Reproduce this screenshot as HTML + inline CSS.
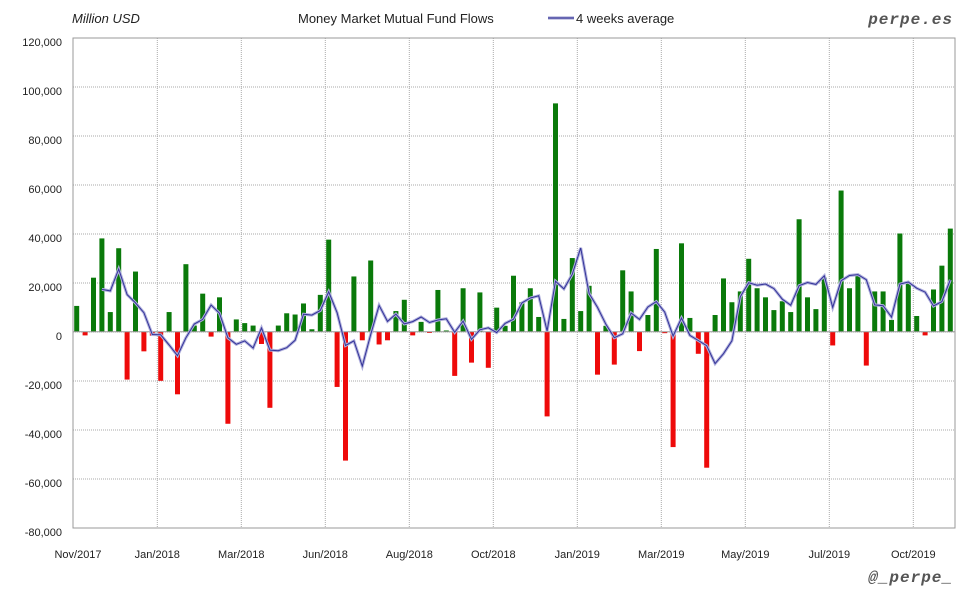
<!DOCTYPE html>
<html><head><meta charset="utf-8"><style>
html,body{margin:0;padding:0;background:#fff;}
svg{display:block;font-family:"Liberation Sans",sans-serif;}
</style></head><body>
<svg id="c" width="980" height="600" xmlns="http://www.w3.org/2000/svg">
<rect width="980" height="600" fill="#fff"/>
<text x="72" y="23" font-size="13" font-style="italic" fill="#222">Million USD</text>
<text x="298" y="23" font-size="13" fill="#222">Money Market Mutual Fund Flows</text>
<line x1="548" y1="18" x2="574" y2="18" stroke="#9999cc" stroke-width="3"/>
<line x1="548" y1="18" x2="574" y2="18" stroke="#333399" stroke-width="1"/>
<text x="576" y="23" font-size="13" fill="#222">4 weeks average</text>
<text x="953" y="24" font-size="16" font-weight="bold" font-style="italic" font-family="Liberation Mono,monospace" fill="#555" text-anchor="end" letter-spacing="1">perpe.es</text>
<text x="953" y="582" font-size="16" font-weight="bold" font-style="italic" font-family="Liberation Mono,monospace" fill="#555" text-anchor="end" letter-spacing="1">@_perpe_</text>
<g id="g"></g>
</svg>
<script>
var v=[10.5,-1.5,22,38,8,34,-19.5,24.5,-8,-1.6,-20,8,-25.5,27.5,2.5,15.5,-2,14,-37.5,5,3.5,2.5,-5,-31,2.5,7.5,7,11.5,1,15,37.5,-22.5,-52.5,22.5,-3.5,29,-5.2,-3.5,8.4,13,-1.5,4,-0.5,17,0.5,-18,17.7,-12.6,16,-14.7,9.8,2.4,22.8,12,17.7,6,-34.5,93,5.2,30,8.4,18.7,-17.5,2.4,-13.4,25,16.4,-7.9,6.8,33.7,-0.6,-47,36,5.6,-9,-55.4,6.8,21.7,12,16.4,29.7,17.7,14,8.8,12.4,8,45.8,14,9.2,22,-5.6,57.5,17.7,23.4,-13.8,16.4,16.4,4.8,40,19.7,6.4,-1.5,17.2,26.9,42];
var L=73,R=955,T=38,B=528,Z=331.7,S=49.1/20;
var s='';
var yl=['120,000','100,000','80,000','60,000','40,000','20,000','0','-20,000','-40,000','-60,000','-80,000'];
for(var i=0;i<11;i++){var y=T+i*49.0;
 if(i>0&&i<10)s+='<line x1="'+L+'" y1="'+y+'" x2="'+R+'" y2="'+y+'" stroke="#aaa" stroke-dasharray="1,1"/>';
 s+='<text x="62" y="'+(y+8)+'" font-size="11" text-anchor="end" fill="#222">'+yl[i]+'</text>';}
var xl=['Nov/2017','Jan/2018','Mar/2018','Jun/2018','Aug/2018','Oct/2018','Jan/2019','Mar/2019','May/2019','Jul/2019','Oct/2019'];
for(var i=0;i<11;i++){var x=73.3+i*84;
 if(i>0)s+='<line x1="'+x+'" y1="'+T+'" x2="'+x+'" y2="'+B+'" stroke="#aaa" stroke-dasharray="1,1"/>';
 s+='<text x="'+(i==0?78:x)+'" y="558" font-size="11" text-anchor="middle" fill="#222">'+xl[i]+'</text>';}
s+='<rect x="'+L+'" y="'+T+'" width="'+(R-L)+'" height="'+(B-T)+'" fill="none" stroke="#999" stroke-width="1"/>';
for(var i=0;i<v.length;i++){var x=76.7+8.4*i,h=v[i]*S;
 s+='<rect x="'+(x-2.5)+'" y="'+(h>0?Z-h:Z)+'" width="5" height="'+Math.abs(h)+'" fill="'+(v[i]>0?'#0a7a0a':'#ee0a0a')+'"/>';}
s+='<line x1="'+L+'" y1="'+Z+'" x2="'+R+'" y2="'+Z+'" stroke="#999"/>';
var p=[];
for(var i=3;i<v.length;i++){var a=(v[i]+v[i-1]+v[i-2]+v[i-3])/4;p.push((76.7+8.4*i).toFixed(1)+','+(Z-a*S).toFixed(1));}
s+='<polyline points="'+p.join(' ')+'" fill="none" stroke="#b0b0dc" stroke-width="3"/>';
s+='<polyline points="'+p.join(' ')+'" fill="none" stroke="#333399" stroke-width="1"/>';
document.getElementById('g').innerHTML=s;
</script>
</body></html>
